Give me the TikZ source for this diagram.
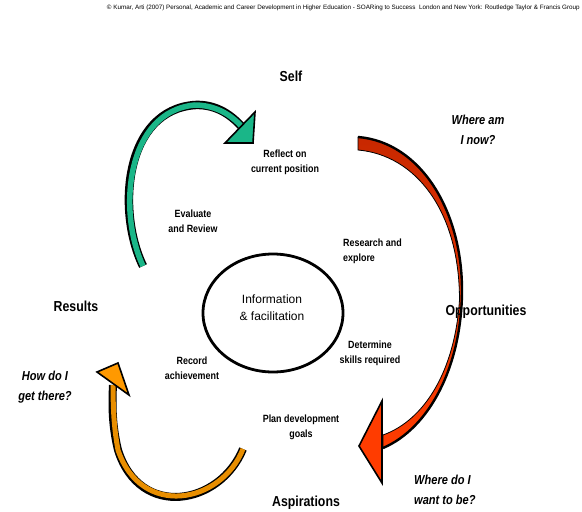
\documentclass[tikz,border=0pt]{standalone}
\usepackage{fontspec}
\usetikzlibrary{shapes.geometric}
\setmainfont{Liberation Sans}[FakeStretch=0.85]
\newfontfamily\plainsans{Liberation Sans}
\definecolor{tealA}{RGB}{26,182,136}
\definecolor{redDark}{RGB}{200,40,0}
\definecolor{redBright}{RGB}{255,60,0}
\definecolor{orangeA}{RGB}{255,153,0}
\definecolor{orangeB}{RGB}{232,142,0}
\begin{document}
\begin{tikzpicture}[x=1pt,y=-1pt,
  smalltxt/.style={font=\bfseries\fontsize{10.5}{15}\selectfont, align=center, inner sep=0pt},
  stagetxt/.style={font=\bfseries\fontsize{14.5}{17}\selectfont, inner sep=0pt},
  asktxt/.style={font=\bfseries\itshape\fontsize{13}{20}\selectfont, align=center, inner sep=0pt},
  headline/.style={draw=black, line width=1.6pt, line join=miter}]
\useasboundingbox (0,0) rectangle (582,512);

% source note along the top edge
\node[anchor=east, inner sep=0pt, font=\plainsans\fontsize{6.3}{7}\selectfont] (note) at (580,8)
  {© Kumar, Arti (2007) Personal, Academic and Career Development in Higher Education - SOARing to Success\ \ London and New York: Routledge Taylor \& Francis Group};

% central ellipse
\node[draw=black, line width=2.8pt, ellipse, minimum width=140pt, minimum height=118pt, inner sep=0pt] (core) at (273,313) {};

% teal arrow: Results -> Self
\coordinate (tS) at (143,266);
\coordinate (tM) at (195,105);
\coordinate (tE) at (242,127);
\draw[black, line width=8.5pt] (tS) .. controls (116,210) and (125,110) .. (tM) .. controls (218,104) and (233,117) .. (tE);
\draw[tealA, line width=5.5pt, shift={(1.2,1.2)}] (tS) .. controls (116,210) and (125,110) .. (tM) .. controls (218,104) and (233,117) .. (tE);
\draw[headline, fill=tealA] (255,112) -- (225,143) -- (253,143) -- cycle;

% red arrow: Self -> Opportunities -> Aspirations
\draw[headline, fill=redBright] (382,401) -- (359,446) -- (382,483) -- cycle;
\shade[top color=redDark, bottom color=redBright, draw=black, line width=0.8pt]
  (358,137) .. controls (420,142) and (462,210) .. (462,290)
            .. controls (462,365) and (430,428) .. (383,448)
  -- (383,435) .. controls (425,420) and (455,370) .. (459.5,300)
            .. controls (459.5,210) and (415,155) .. (358,150) -- cycle;
\draw[black, line width=2.4pt]
  (358,137) .. controls (420,142) and (462,210) .. (462,290)
            .. controls (462,365) and (430,428) .. (383,448);

% orange arrow: Aspirations -> Results
\coordinate (oS) at (243,449);
\coordinate (oM) at (118,450);
\coordinate (oE) at (113,385);
\draw[black, line width=8pt] (oS) .. controls (220,505) and (140,520) .. (oM) .. controls (112,425) and (112,405) .. (oE);
\draw[orangeB, line width=5pt, shift={(1.2,-1.2)}] (oS) .. controls (220,505) and (140,520) .. (oM) .. controls (112,425) and (112,405) .. (oE);
\draw[headline, fill=orangeA] (97,372) -- (118,363) -- (129,395) -- cycle;

% stage names
\node[stagetxt] (self) at (291,76) {Self};
\node[stagetxt] (results) at (76,306) {Results};
\node[stagetxt] (opps) at (486,312) {Opportunities};
\node[stagetxt] (asp) at (306,503) {Aspirations};

% questions
\node[asktxt] (q1) at (478,130) {Where am\\I now?};
\node[asktxt] (q2) at (45,387) {How do I\\get there?};
\node[asktxt, align=left, anchor=west] (q3) at (414,490) {Where do I\\want to be?};

% steps of the cycle
\node[smalltxt] (s1) at (285,162) {Reflect on\\current position};
\node[smalltxt, align=left, anchor=west] (s2) at (343,251) {Research and\\explore};
\node[smalltxt] (s3) at (370,353) {Determine\\skills required};
\node[smalltxt] (s4) at (301,427) {Plan development\\goals};
\node[smalltxt] (s5) at (192,368) {Record\\achievement};
\node[smalltxt] (s6) at (193,221) {Evaluate\\and Review};

\node[font=\plainsans\fontsize{12}{17}\selectfont, align=center, inner sep=0pt] (info) at (272,308) {Information\\\& facilitation};
\end{tikzpicture}
\end{document}
